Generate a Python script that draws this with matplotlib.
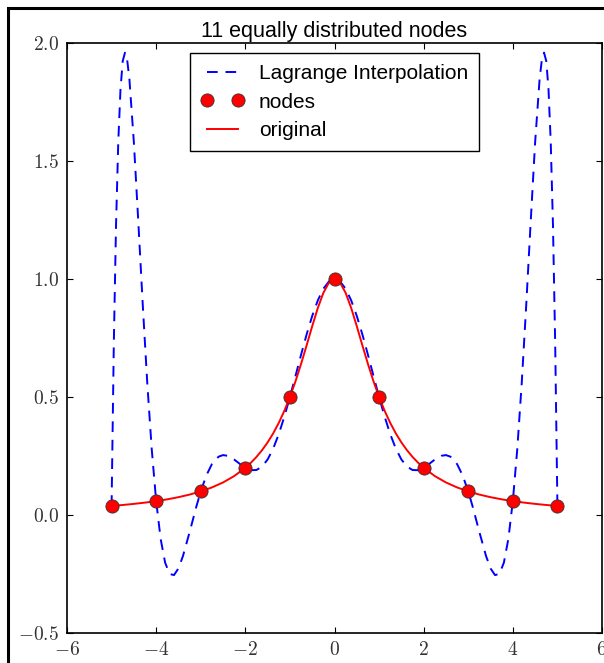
import numpy as np
import matplotlib
matplotlib.use('Agg')
import matplotlib.pyplot as plt
from matplotlib.patches import Rectangle
from matplotlib.ticker import FuncFormatter

# 11 equally spaced nodes and their values
node_x = [-5, -4, -3, -2, -1, 0, 1, 2, 3, 4, 5]
node_y = [0.0385, 0.0588, 0.1, 0.2, 0.5, 1.0, 0.5, 0.2, 0.1, 0.0588, 0.0385]

# dashed curve (symmetric), read for x >= 0
lag_x = [0, 0.125, 0.25, 0.375, 0.5, 0.625, 0.75, 0.875, 1, 1.125, 1.25, 1.375,
         1.5, 1.625, 1.75, 1.875, 2, 2.125, 2.25, 2.4, 2.5, 2.6, 2.75, 2.875, 3,
         3.1, 3.25, 3.4, 3.5, 3.6, 3.7, 3.8, 3.9, 4, 4.1, 4.2, 4.3, 4.4, 4.5,
         4.6, 4.65, 4.7, 4.75, 4.8, 4.85, 4.9, 4.95, 5]
lag_y = [1.0, 0.9895, 0.9586, 0.909, 0.8434, 0.7653, 0.679, 0.589, 0.5, 0.4166,
         0.3426, 0.2815, 0.2353, 0.2052, 0.1906, 0.1899, 0.2, 0.2167, 0.235,
         0.251, 0.2538, 0.2472, 0.2156, 0.1674, 0.1, 0.0349, -0.0726, -0.1743,
         -0.2262, -0.2546, -0.2496, -0.2013, -0.1007, 0.0588, 0.2802, 0.5604,
         0.8881, 1.2402, 1.5787, 1.8459, 1.928, 1.959, 1.9236, 1.8044, 1.581,
         1.2303, 0.7261, 0.0385]

# solid curve (symmetric), read for x >= 0
orig_x = [0, 0.125, 0.25, 0.375, 0.5, 0.625, 0.75, 0.875, 1, 1.125, 1.25,
          1.375, 1.5, 1.625, 1.75, 1.875, 2, 2.25, 2.5, 2.75, 3, 3.25, 3.5,
          3.75, 4, 4.25, 4.5, 4.75, 5]
orig_y = [1.0, 0.9846, 0.9412, 0.8767, 0.8, 0.7191, 0.64, 0.5664, 0.5, 0.4414,
          0.3902, 0.346, 0.3077, 0.2747, 0.2462, 0.2215, 0.2, 0.165, 0.1379,
          0.1168, 0.1, 0.0865, 0.0755, 0.0664, 0.0588, 0.0525, 0.0471, 0.0424,
          0.0385]


def mirror(xs, ys):
    xs, ys = np.array(xs), np.array(ys)
    return (np.concatenate([-xs[::-1], xs[1:]]),
            np.concatenate([ys[::-1], ys[1:]]))


plt.rcParams['mathtext.fontset'] = 'cm'
plt.rcParams['font.family'] = ['Liberation Sans', 'DejaVu Sans']

fig = plt.figure(figsize=(6.04, 6.63), dpi=100)
ax = fig.add_axes([67 / 604, 30 / 663, 535 / 604, 590 / 663])

lx, ly = mirror(lag_x, lag_y)
ox, oy = mirror(orig_x, orig_y)

ax.plot(lx, ly, color='b', linestyle='--', dashes=(5.5, 4), linewidth=1.4,
        label='Lagrange Interpolation')
ax.plot(node_x, node_y, 'o', color='r', markersize=9.5, markeredgecolor='#333333',
        markeredgewidth=0.6, label='nodes', zorder=3)
ax.plot(ox, oy, color='r', linewidth=1.4, label='original')

ax.set_xlim(-6, 6)
ax.set_ylim(-0.5, 2.0)
ax.set_xticks(np.arange(-6, 7, 2))
ax.set_yticks(np.arange(-0.5, 2.01, 0.5))
ax.xaxis.set_major_formatter(FuncFormatter(lambda v, p: r'$%d$' % round(v)))
ax.yaxis.set_major_formatter(FuncFormatter(lambda v, p: r'$%.1f$' % v))
ax.tick_params(direction='in', length=4, width=0.8, top=True, right=True,
               labelsize=14, labelcolor='#333333', pad=6)
for s in ax.spines.values():
    s.set_linewidth(1.2)

ax.set_title('11 equally distributed nodes', fontsize=15.5, pad=4)
leg = ax.legend(loc='upper center', numpoints=2, fontsize=15, fancybox=False,
                framealpha=1, handlelength=2.1, handletextpad=0.7,
                borderpad=0.5, labelspacing=0.47, borderaxespad=0.5)
leg.get_frame().set_edgecolor('black')
leg.get_frame().set_linewidth(1.0)

fig.add_artist(Rectangle((8 / 604, -0.1), 1.2, (663 - 8) / 663 + 0.1,
                         transform=fig.transFigure, fill=False,
                         edgecolor='black', linewidth=2.2, clip_on=False))

fig.savefig('out.png', dpi=100)
